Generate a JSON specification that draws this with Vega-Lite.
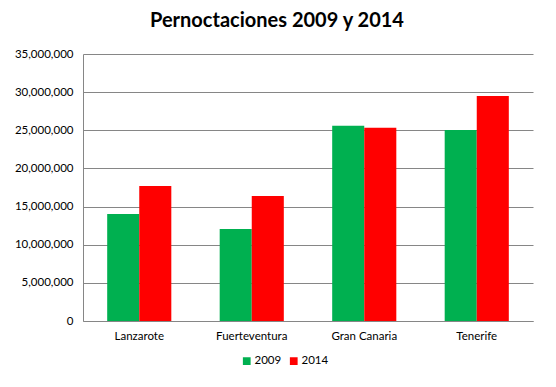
{
  "$schema": "https://vega.github.io/schema/vega-lite/v6.json",
  "width": 450,
  "height": 267,
  "autosize": {"type": "none"},
  "padding": {"left": 83, "top": 54, "right": 23, "bottom": 66},
  "background": "white",
  "title": {
    "text": "Pernoctaciones 2009 y 2014",
    "font": "Lato",
    "fontSize": 20,
    "fontWeight": "bold",
    "color": "black",
    "anchor": "middle",
    "dx": -31,
    "offset": 17
  },
  "data": {
    "values": [
      {"isla": "Lanzarote", "year": "2009", "value": 14040000},
      {"isla": "Lanzarote", "year": "2014", "value": 17710000},
      {"isla": "Fuerteventura", "year": "2009", "value": 12070000},
      {"isla": "Fuerteventura", "year": "2014", "value": 16400000},
      {"isla": "Gran Canaria", "year": "2009", "value": 25580000},
      {"isla": "Gran Canaria", "year": "2014", "value": 25320000},
      {"isla": "Tenerife", "year": "2009", "value": 25050000},
      {"isla": "Tenerife", "year": "2014", "value": 29510000}
    ]
  },
  "mark": {"type": "bar"},
  "encoding": {
    "x": {
      "field": "isla",
      "type": "nominal",
      "sort": ["Lanzarote", "Fuerteventura", "Gran Canaria", "Tenerife"],
      "scale": {"paddingInner": 0.43, "paddingOuter": 0.215},
      "axis": {
        "title": null,
        "labelAngle": 0,
        "ticks": false,
        "domainColor": "#868686",
        "labelFont": "Lato",
        "labelFontSize": 11.5,
        "labelColor": "black",
        "labelPadding": 9
      }
    },
    "xOffset": {"field": "year", "type": "nominal", "sort": ["2009", "2014"]},
    "y": {
      "field": "value",
      "type": "quantitative",
      "scale": {"domain": [0, 35000000], "nice": false},
      "axis": {
        "title": null,
        "values": [0, 5000000, 10000000, 15000000, 20000000, 25000000, 30000000, 35000000],
        "format": ",d",
        "ticks": false,
        "domainColor": "#868686",
        "gridColor": "#868686",
        "gridOpacity": 1,
        "labelFont": "Lato",
        "labelFontSize": 11.5,
        "labelColor": "black",
        "labelPadding": 10
      }
    },
    "color": {
      "field": "year",
      "type": "nominal",
      "scale": {"domain": ["2009", "2014"], "range": ["#00B050", "#FF0000"]},
      "legend": {
        "title": null,
        "orient": "none",
        "legendX": 158,
        "legendY": 301,
        "direction": "horizontal",
        "symbolType": "square",
        "symbolSize": 60,
        "symbolStrokeWidth": 0,
        "labelFont": "Lato",
        "labelFontSize": 11.5,
        "labelColor": "black",
        "columnPadding": 6,
        "labelOffset": 2
      }
    }
  },
  "config": {
    "view": {"stroke": null},
    "axis": {"gridWidth": 1, "domainWidth": 1}
  }
}
